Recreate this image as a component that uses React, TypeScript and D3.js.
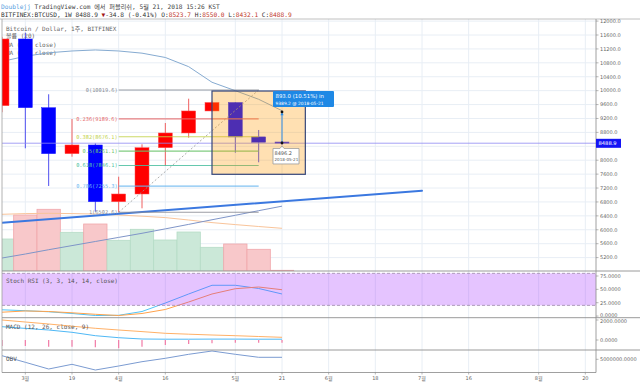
import React from "react";
import * as d3 from "d3";

const weekDates = ["2018-02-26","2018-03-05","2018-03-12","2018-03-19","2018-03-26","2018-04-02","2018-04-09","2018-04-16","2018-04-23","2018-04-30","2018-05-07","2018-05-14","2018-05-21"];
const opens = [9568, 11486, 9510, 8188, 8438, 6807, 7029, 8360, 8783, 9416, 9660, 8670, 8523.7];
const highs = [11550, 11667, 9896, 9186, 8487, 7526, 8458, 9070, 9769, 9690, 9670, 8869, 8550.0];
const lows = [9380, 8343, 7259, 8101, 6520, 6502.6, 6617, 7834, 8648, 9400, 8216, 7940, 8432.1];
const closes = [11486, 9510, 8188, 8438, 6807, 7029, 8360, 8783, 9416, 9660, 8670, 8516, 8488.9];
const volumes = [320, 560, 617, 387, 470, 307, 417, 310, 390, 237, 270, 217, 7];
const volumeMA = [567, 574, 577, 574, 570, 560, 548, 534, 510, 484, 464, 445, 427];
const ma20 = [10839, 10989, 11089, 11141, 11170, 11141, 11078, 10954, 10690, 10241, 9999, 9752, 9424];
const ma60 = [5188, 5303, 5427, 5545, 5663, 5781, 5899, 6026, 6155, 6288, 6417, 6549, 6679];
const stochK = [11.7, 10, 8, 4.8, 1, 1.4, 8.5, 24.4, 41.3, 57.6, 57.6, 51.6, 41.3];
const stochD = [7.2, 9.5, 8.5, 6.1, 3.3, 1, 4.8, 12.3, 26.3, 41.3, 51.2, 54.4, 49.3];
const macdLine = [1330, 1160, 1000, 770, 430, 230, 100, 80, 80, 90, 90, 80, 80];
const signalLine = [2000, 1800, 1600, 1380, 1170, 1000, 840, 670, 580, 500, 430, 350, 270];
const macdHist = [-600, -600, -670, -670, -730, -830, -670, -500, -400, -330, -270, -270, -270];
const obv = [6.8e6, 3.5e6, 0.15e6, 2.5e6, -0.35e6, 1.65e6, 3.8e6, 5.5e6, 7.5e6, 9.15e6, 7.5e6, 6.0e6, 6.0e6];

const priceTicks = d3.range(5200, 12001, 400);
const stochTicks = [75, 50, 25, 0];
const macdTicks = [2000, 0];
const obvTicks = [5000000];
const timeTickDates = ["2018-03-05","2018-03-19","2018-04-02","2018-04-16","2018-05-07","2018-05-21","2018-06-04","2018-06-18","2018-07-02","2018-07-16","2018-08-06","2018-08-20"];
const timeTickLabels = ["3월","19","4월","16","5월","21","6월","18","7월","16","8월","20"];

const fibRatios = ["0", "0.236", "0.382", "0.5", "0.618", "0.786", "1"];
const fibPrices = [10019.6, 9189.6, 8676.1, 8261.1, 7846.1, 7255.3, 6502.6];
const fibColors = ["#8a8d96", "#e86c6c", "#c4d44e", "#6cc46c", "#4cbfa0", "#6cb8f0", "#8a8d96"];
const fibStart = "2018-04-02";
const fibEnd = "2018-05-14";

const trendDates = ["2018-02-26", "2018-07-02"];
const trendPrices = [6203, 7123];
const boxDates = ["2018-04-30", "2018-05-28"];
const boxPrices = [9990, 7595];
const measureDate = "2018-05-21";
const measurePrices = [8496.2, 9389.2];
const lastPrice = 8488.9;

const parse = d3.utcParse("%Y-%m-%d");

const MONO = "'DejaVu Sans Mono', 'Noto Sans CJK KR', monospace";
const SANS = "'DejaVu Sans', 'Noto Sans CJK KR', sans-serif";

export default function App() {
  const L = 2, R = 596;
  const mainTop = 19, mainBottom = 271, stochBottom = 317.7, macdBottom = 350, obvBottom = 372.5;
  const dates = weekDates.map(parse) as Date[];
  const x = d3.scaleTime().domain([parse("2018-02-26")!, parse("2018-05-21")!]).range([2, 282]);
  const step = x(parse("2018-03-05")!) - x(parse("2018-02-26")!);
  const y = d3.scaleLinear().domain([5200, 12000]).range([257.6, 21.1]);
  const yVol = d3.scaleLinear().domain([0, 1000]).range([mainBottom, mainBottom - 100]);
  const yStoch = d3.scaleLinear().domain([0, 100]).range([316.05, 262.65]);
  const yMacd = d3.scaleLinear().domain([0, 2000]).range([340, 320]);
  const yObv = d3.scaleLinear().domain([0, 5e6]).range([369.3, 359.3]);

  const line = (ys: (v: number) => number, vals: number[]) =>
    d3.line<number>().x((_, i) => x(dates[i])).y((v) => ys(v))(vals) || "";

  const bodyW = 14;
  const gridColor = "#e8eef5";
  const sepColor = "#8f8f8f";
  const tickXs = timeTickDates.map((d) => x(parse(d)!));

  const mX = x(parse(measureDate)!);
  const mY0 = y(measurePrices[0]);
  const mY1 = y(measurePrices[1]);

  const boxX0 = x(parse(boxDates[0])!), boxX1 = x(parse(boxDates[1])!);
  const boxY0 = y(boxPrices[0]), boxY1 = y(boxPrices[1]);
  const fx0 = x(parse(fibStart)!), fx1 = x(parse(fibEnd)!);
  const lastY = y(lastPrice);

  return (
    <svg width={640} height={382} style={{ position: "absolute", left: 0, top: 0, background: "#fff" }}>
      <defs>
        <clipPath id="mainClip"><rect x={L} y={mainTop} width={R - L} height={mainBottom - mainTop} /></clipPath>
        <clipPath id="lowClip"><rect x={L} y={mainBottom} width={R - L} height={obvBottom - mainBottom} /></clipPath>
      </defs>

      {/* header */}
      <text x={1} y={8.6} fontFamily={MONO} fontSize={6.2} fill="#444" xmlSpace="preserve">
        <tspan fill="#5a9fe0">Doublejj</tspan>
        <tspan> TradingView.com 에서 퍼블리쉬, 5월 21, 2018 15:26 KST</tspan>
      </text>
      <text x={1} y={16.6} fontFamily={MONO} fontSize={6.2} fill="#333" xmlSpace="preserve">
        <tspan>BITFINEX:BTCUSD, 1W 8488.9 </tspan>
        <tspan fill="#a31515">▼</tspan>
        <tspan>-34.8 (-0.41%) O:</tspan>
        <tspan fill="#c0392b">8523.7</tspan>
        <tspan> H:</tspan>
        <tspan fill="#c0392b">8550.0</tspan>
        <tspan> L:</tspan>
        <tspan fill="#c0392b">8432.1</tspan>
        <tspan> C:</tspan>
        <tspan fill="#c0392b">8488.9</tspan>
      </text>

      {/* grid */}
      {tickXs.map((tx, i) => (
        <line key={"vg" + i} x1={tx} x2={tx} y1={mainTop} y2={obvBottom} stroke={gridColor} strokeWidth={1} />
      ))}
      {priceTicks.map((p) => (
        <line key={"hg" + p} x1={L} x2={R} y1={y(p)} y2={y(p)} stroke={gridColor} strokeWidth={1} />
      ))}

      <g clipPath="url(#mainClip)">
        {/* volume */}
        {volumes.map((v, i) => {
          const up = closes[i] >= opens[i];
          return (
            <rect key={"v" + i} x={x(dates[i]) - step / 2} y={yVol(v)} width={step} height={mainBottom - yVol(v)}
              fill={up ? "#cbe8d8" : "#f8c8ca"} stroke={up ? "#b5dcc6" : "#f0a7ab"} strokeWidth={0.8} />
          );
        })}
        <path d={line(yVol, volumeMA)} fill="none" stroke="#f9c49a" strokeWidth={1} />

        {/* legends */}
        <g fontFamily={MONO} fontSize={6} fill="#666">
          <text x={6} y={30.5}>Bitcoin / Dollar, 1주, BITFINEX</text>
          <text x={6} y={38.3}>볼륨 (20)</text>
          <text x={6} y={46.5}>MA (20, close)</text>
          <text x={6} y={54.5}>MA (60, close)</text>
        </g>

        {/* moving averages */}
        <path d={line(y, ma20)} fill="none" stroke="#86abd1" strokeWidth={1} />
        <path d={line(y, ma60)} fill="none" stroke="#7f95c8" strokeWidth={1} />

        {/* candles */}
        {dates.map((d, i) => {
          const up = closes[i] >= opens[i];
          const col = up ? "#ff0000" : "#0000ff";
          const cx = x(d);
          const top = y(Math.max(opens[i], closes[i]));
          const bot = y(Math.min(opens[i], closes[i]));
          return (
            <g key={"c" + i}>
              <line x1={cx} x2={cx} y1={y(highs[i])} y2={y(lows[i])} stroke={up ? "#f06060" : "#5050f0"} strokeWidth={1} />
              <rect x={cx - bodyW / 2} y={top} width={bodyW} height={Math.max(1.2, bot - top)} fill={col} stroke={up ? "#ff5050" : "#2020ff"} strokeWidth={0.5} />
            </g>
          );
        })}

        {/* trend line */}
        <line x1={x(parse(trendDates[0])!)} y1={y(trendPrices[0])} x2={x(parse(trendDates[1])!)} y2={y(trendPrices[1])}
          stroke="#3b78e0" strokeWidth={2} strokeLinecap="round" />

        {/* fibonacci */}
        <line x1={fx0} y1={y(fibPrices[6])} x2={fx1} y2={y(fibPrices[0])} stroke="#999" strokeWidth={0.8} strokeDasharray="2,2" />
        {fibPrices.map((p, i) => (
          <g key={"f" + i}>
            <line x1={fx0} x2={fx1} y1={y(p)} y2={y(p)} stroke={fibColors[i]} strokeWidth={1.1} opacity={0.85} />
            <text x={fx0 - 1} y={y(p) + 1.9} textAnchor="end" fontFamily={MONO} fontSize={5.3} fill={fibColors[i]}>
              {fibRatios[i]}({p.toFixed(1)})
            </text>
          </g>
        ))}

        {/* last price line */}
        <line x1={L} x2={R} y1={lastY} y2={lastY} stroke="#8f8af2" strokeWidth={0.8} />

        {/* rectangle */}
        <rect x={boxX0} y={boxY0} width={boxX1 - boxX0} height={boxY1 - boxY0} fill="rgba(255,152,0,0.3)" stroke="#35467a" strokeWidth={1.2} />

        {/* measurement */}
        <line x1={mX} x2={mX} y1={mY0} y2={mY1 + 2} stroke="#2a8ae8" strokeWidth={1} />
        <path d={`M${mX - 1.6},${mY1 + 3.4} L${mX},${mY1} L${mX + 1.6},${mY1 + 3.4} Z`} fill="#2a8ae8" />
        <circle cx={mX} cy={mY1} r={1.4} fill="#111" />
        <circle cx={mX} cy={mY0} r={1.4} fill="#111" />
        <rect x={mX - 9} y={91} width={61} height={16} rx={1} fill="#1e88e5" />
        <text x={mX - 6.5} y={98} fontFamily={SANS} fontSize={5.4} fill="#fff">893.0 (10.51%) in</text>
        <text x={mX - 6.5} y={105} fontFamily={SANS} fontSize={4.4} fill="#fff">9389.2 @ 2018-05-21</text>
        <path d={`M${mX - 9},${mY0 + 5.5} L${mX - 2},${mY0 + 5.5} L${mX},${mY0 + 3} L${mX + 2},${mY0 + 5.5} L${mX + 17},${mY0 + 5.5} L${mX + 17},${mY0 + 21} L${mX - 9},${mY0 + 21} Z`}
          fill="#fff" stroke="#9a9a9a" strokeWidth={0.8} strokeLinejoin="round" />
        <text x={mX - 7.5} y={mY0 + 12} fontFamily={SANS} fontSize={5} fill="#555">{measurePrices[0].toFixed(1)}</text>
        <text x={mX - 7.5} y={mY0 + 18.5} fontFamily={SANS} fontSize={4.1} fill="#555">{measureDate}</text>
      </g>

      {/* lower panes */}
      <g clipPath="url(#lowClip)">
        {/* stoch */}
        <path d={line(yStoch, stochK)} fill="none" stroke="#4fc3f7" strokeWidth={1} />
        <path d={line(yStoch, stochD)} fill="none" stroke="#ffa24c" strokeWidth={1} />
        <rect x={L} y={yStoch(80)} width={R - L} height={yStoch(20) - yStoch(80)} fill="rgba(153,21,255,0.25)" />
        <line x1={L} x2={R} y1={yStoch(80)} y2={yStoch(80)} stroke="#9d8aa8" strokeWidth={0.8} strokeDasharray="3,2" />
        <line x1={L} x2={R} y1={yStoch(20)} y2={yStoch(20)} stroke="#9d8aa8" strokeWidth={0.8} strokeDasharray="3,2" />
        <text x={6} y={282.5} fontFamily={MONO} fontSize={6} fill="#555">Stoch RSI (3, 3, 14, 14, close)</text>

        {/* macd */}
        {macdHist.map((h, i) => (
          <line key={"h" + i} x1={x(dates[i])} x2={x(dates[i])} y1={yMacd(0)} y2={yMacd(h)} stroke="#f27aa6" strokeWidth={1.2} />
        ))}
        <path d={line(yMacd, signalLine)} fill="none" stroke="#ffa24c" strokeWidth={1} opacity={0.85} />
        <path d={line(yMacd, macdLine)} fill="none" stroke="#4fb8f5" strokeWidth={1} />
        <text x={6} y={329} fontFamily={MONO} fontSize={6} fill="#555">MACD (12, 26, close, 9)</text>

        {/* obv */}
        <path d={line(yObv, obv)} fill="none" stroke="#7b9bd1" strokeWidth={1} />
        <text x={6} y={361.3} fontFamily={MONO} fontSize={6} fill="#555">OBV</text>
      </g>

      {/* frames */}
      <line x1={0} x2={640} y1={mainTop} y2={mainTop} stroke="#b0b0b0" strokeWidth={0.8} />
      <line x1={L} x2={L} y1={mainTop} y2={obvBottom} stroke="#a0a0a0" strokeWidth={0.8} />
      <line x1={R} x2={R} y1={mainTop} y2={obvBottom} stroke="#888" strokeWidth={0.8} />
      {[mainBottom, stochBottom, macdBottom].map((yy) => (
        <line key={"s" + yy} x1={L} x2={640} y1={yy} y2={yy} stroke={sepColor} strokeWidth={0.9} />
      ))}
      <line x1={L} x2={R} y1={obvBottom} y2={obvBottom} stroke="#888" strokeWidth={0.8} />

      {/* right axis labels */}
      <g fontFamily={SANS} fontSize={5} fill="#666">
        {priceTicks.map((p) => (
          <g key={"pt" + p}>
            <line x1={R} x2={R + 2.5} y1={y(p)} y2={y(p)} stroke="#888" strokeWidth={0.6} />
            {Math.abs(y(p) - lastY) > 5.5 && <text x={R + 4} y={y(p) + 1.8}>{p.toFixed(1)}</text>}
          </g>
        ))}
        {stochTicks.map((v) => (
          <g key={"st" + v}>
            <line x1={R} x2={R + 2.5} y1={yStoch(v)} y2={yStoch(v)} stroke="#888" strokeWidth={0.6} />
            <text x={R + 4} y={yStoch(v) + (v === 0 ? 0.6 : 1.8)}>{v.toFixed(4)}</text>
          </g>
        ))}
        {macdTicks.map((v) => (
          <g key={"mt" + v}>
            <line x1={R} x2={R + 2.5} y1={yMacd(v)} y2={yMacd(v)} stroke="#888" strokeWidth={0.6} />
            <text x={R + 4} y={yMacd(v) + (v === 2000 ? 3.2 : 1.8)}>{v.toFixed(4)}</text>
          </g>
        ))}
        {obvTicks.map((v) => (
          <g key={"ot" + v}>
            <line x1={R} x2={R + 2.5} y1={yObv(v)} y2={yObv(v)} stroke="#888" strokeWidth={0.6} />
            <text x={R + 4} y={yObv(v) + 1.8}>{v.toFixed(4)}</text>
          </g>
        ))}
      </g>
      <rect x={R} y={lastY - 4.4} width={25} height={9} fill="#1414f5" />
      <text x={R + 2.5} y={lastY + 1.9} fontFamily={SANS} fontSize={5.2} fill="#fff">{lastPrice.toFixed(1)}</text>

      {/* time axis */}
      <g fontFamily={SANS} fontSize={5} fill="#666">
        {tickXs.map((tx, i) => (
          <g key={"tt" + i}>
            <line x1={tx} x2={tx} y1={obvBottom} y2={obvBottom + 2} stroke="#888" strokeWidth={0.6} />
            <text x={tx} y={379.5} textAnchor="middle">{timeTickLabels[i]}</text>
          </g>
        ))}
      </g>
    </svg>
  );
}
